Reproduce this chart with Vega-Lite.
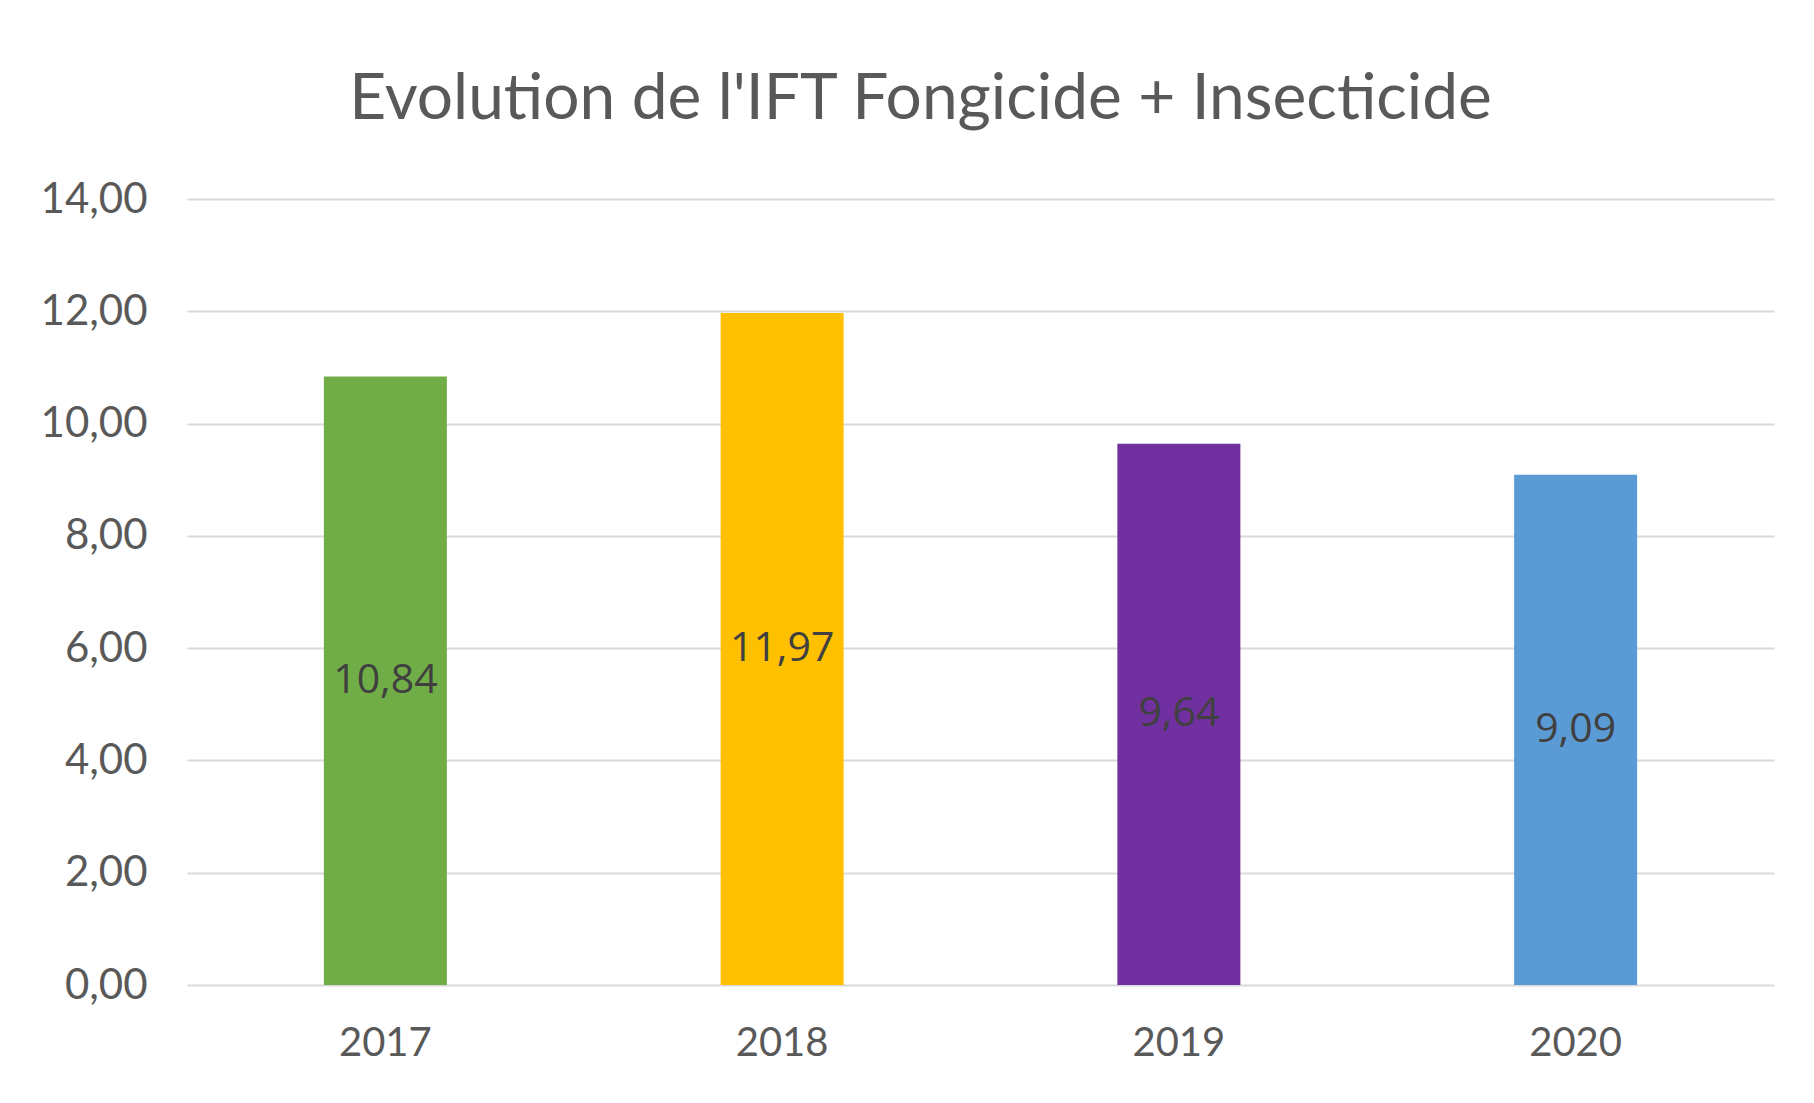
{
  "$schema": "https://vega.github.io/schema/vega-lite/v6.json",
  "width": 1587,
  "height": 786,
  "autosize": {"type": "none"},
  "padding": {"left": 187, "top": 199, "right": 40, "bottom": 118},
  "background": "white",
  "config": {
    "view": {"stroke": null},
    "font": "Lato",
    "locale": {"number": {"decimal": ",", "thousands": " ", "grouping": [3], "currency": ["", " €"]}}
  },
  "title": {
    "text": "Evolution de l'IFT Fongicide + Insecticide",
    "fontSize": 64,
    "fontWeight": "normal",
    "font": "Lato",
    "color": "#595959",
    "anchor": "middle",
    "dx": -60,
    "offset": 46
  },
  "data": {
    "values": [
      {"annee": "2017", "ift": 10.84},
      {"annee": "2018", "ift": 11.97},
      {"annee": "2019", "ift": 9.64},
      {"annee": "2020", "ift": 9.09}
    ]
  },
  "encoding": {
    "x": {
      "field": "annee",
      "type": "nominal",
      "scale": {"paddingInner": 0.69, "paddingOuter": 0.345},
      "axis": {
        "title": null,
        "labelAngle": 0,
        "labelFontSize": 40,
        "labelColor": "#595959",
        "labelPadding": 38,
        "ticks": false,
        "domain": false
      }
    }
  },
  "layer": [
    {
      "mark": {"type": "bar"},
      "encoding": {
        "y": {
          "field": "ift",
          "type": "quantitative",
          "scale": {"domain": [0, 14], "nice": false},
          "axis": {
            "title": null,
            "values": [0, 2, 4, 6, 8, 10, 12, 14],
            "format": ".2f",
            "labelFontSize": 42,
            "labelColor": "#595959",
            "labelPadding": 40,
            "ticks": false,
            "domain": false,
            "gridColor": "#d9d9d9",
            "gridWidth": 2
          }
        },
        "color": {
          "field": "annee",
          "type": "nominal",
          "scale": {"range": ["#70ad47", "#ffc000", "#7030a0", "#5b9bd5"]},
          "legend": null
        }
      }
    },
    {
      "mark": {"type": "text", "fontSize": 41, "font": "Open Sans", "color": "#404040", "baseline": "middle", "align": "center"},
      "encoding": {
        "y": {
          "field": "ift",
          "type": "quantitative",
          "scale": {"domain": [0, 28], "nice": false},
          "axis": null
        },
        "text": {"field": "ift", "type": "quantitative", "format": ".2f"}
      }
    }
  ],
  "resolve": {"scale": {"y": "independent"}}
}
